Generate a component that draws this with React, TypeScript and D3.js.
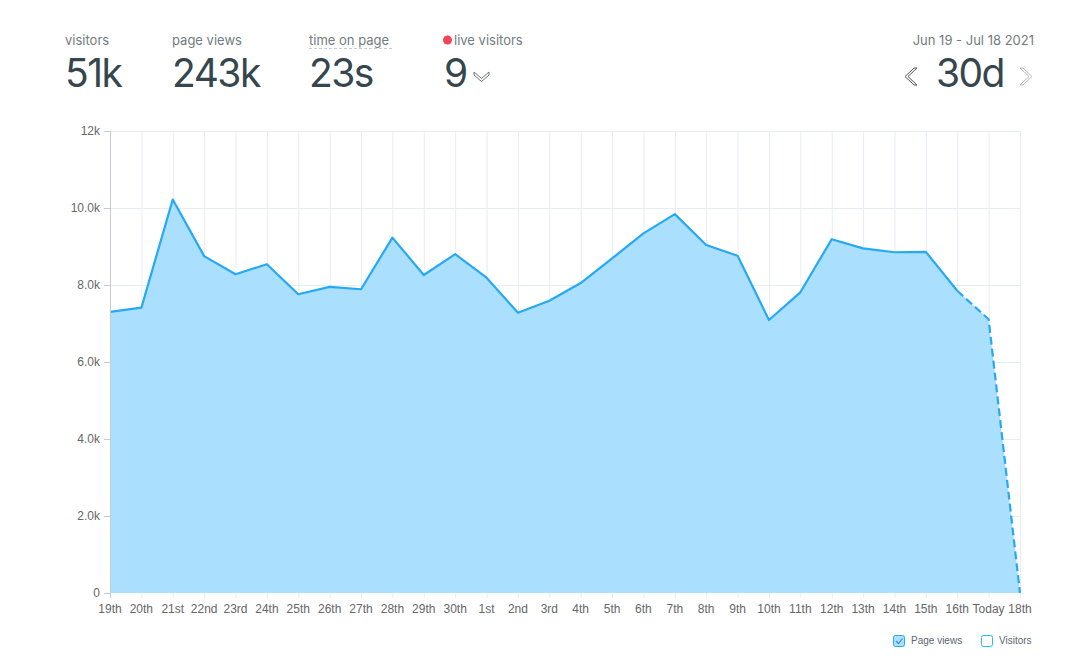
import React, { useEffect, useRef } from 'react';
import * as d3 from 'd3';

// x categories (Jun 19 - Jul 18)
const days = [
  '19th', '20th', '21st', '22nd', '23rd', '24th', '25th', '26th', '27th', '28th', '29th', '30th',
  '1st', '2nd', '3rd', '4th', '5th', '6th', '7th', '8th', '9th', '10th', '11th', '12th', '13th',
  '14th', '15th', '16th', 'Today', '18th',
];

// page views per day
const pageViews = [
  7300, 7410, 10220, 8750, 8280, 8540, 7760, 7950, 7890, 9230, 8260, 8800,
  8190, 7280, 7590, 8050, 8690, 9340, 9840, 9040, 8760, 7090, 7810, 9190, 8950,
  8850, 8860, 7850, 7110, 0,
];

const yTicks = [0, 2000, 4000, 6000, 8000, 10000, 12000];
const yTickLabels = ['0', '2.0k', '4.0k', '6.0k', '8.0k', '10.0k', '12k'];

const statLabels = ['visitors', 'page views', 'time on page', 'live visitors'];
const statValues = ['51k', '243k', '23s', '9'];
const statX = [65, 172, 309, 444];

const dateRange = 'Jun 19 - Jul 18 2021';
const period = '30d';

const legendItems = ['Page views', 'Visitors'];

// index where the line turns dashed (incomplete days)
const dashFrom = 27;

export default function App() {
  const ref = useRef<SVGSVGElement>(null);

  useEffect(() => {
    document.body.style.margin = '0';
    const width = 1069;
    const height = 660;
    const left = 110, right = 1020, top = 131, bottom = 593;

    const svg = d3.select(ref.current).attr('width', width).attr('height', height);
    svg.selectAll('*').remove();

    const x = d3.scalePoint<string>().domain(days).range([left, right]);
    const y = d3.scaleLinear().domain([0, 12000]).range([bottom, top]);

    const headFont = 'Inter, "DejaVu Sans", sans-serif';
    const axisFont = '"Liberation Sans", Arial, sans-serif';

    // header stats
    const head = svg.append('g');
    statLabels.forEach((lab, i) => {
      head.append('text')
        .attr('x', i === 3 ? statX[i] + 10 : statX[i])
        .attr('y', 45)
        .attr('font-family', headFont)
        .attr('font-size', 13)
        .attr('fill', '#737b80')
        .text(lab);
      head.append('text')
        .attr('x', statX[i])
        .attr('y', 87)
        .attr('font-family', headFont)
        .attr('font-size', 39)
        .attr('font-weight', 400)
        .attr('letter-spacing', -1.5)
        .attr('fill', '#36464e')
        .text(statValues[i]);
    });
    // dashed underline under time on page
    head.append('line')
      .attr('x1', 309).attr('x2', 393).attr('y1', 48.5).attr('y2', 48.5)
      .attr('stroke', '#c6cdd2').attr('stroke-dasharray', '3,2');
    // live dot
    head.append('circle').attr('cx', 447.5).attr('cy', 40).attr('r', 4.5).attr('fill', '#f2455b');
    // chevron next to live count
    head.append('path')
      .attr('d', 'M474,72 L481.5,78.5 L489,72 L489,75 L481.5,81.5 L474,75 Z')
      .attr('fill', 'none').attr('stroke', '#6f777c').attr('stroke-width', 1);

    // date range and period
    head.append('text')
      .attr('x', 1034).attr('y', 45)
      .attr('text-anchor', 'end')
      .attr('font-family', headFont).attr('font-size', 13).attr('fill', '#737b80')
      .text(dateRange);
    head.append('text')
      .attr('x', 1004).attr('y', 87)
      .attr('text-anchor', 'end')
      .attr('font-family', headFont).attr('font-size', 39)
      .attr('letter-spacing', -1.5)
      .attr('fill', '#36464e')
      .text(period);
    head.append('path')
      .attr('d', 'M914,68 L905,76.5 L914,85 L917,85 L908,76.5 L917,68 Z')
      .attr('fill', 'none').attr('stroke', '#4d575c').attr('stroke-width', 1);
    head.append('path')
      .attr('d', 'M1023,68 L1032,76.5 L1023,85 L1020,85 L1029,76.5 L1020,68 Z')
      .attr('fill', 'none').attr('stroke', '#b4bbc0').attr('stroke-width', 1);

    // grid
    const grid = svg.append('g');
    grid.selectAll('line.h')
      .data(yTicks.slice(1))
      .enter().append('line')
      .attr('x1', left).attr('x2', right)
      .attr('y1', d => y(d) + 0.5).attr('y2', d => y(d) + 0.5)
      .attr('stroke', '#e7edf2');
    grid.selectAll('line.v')
      .data(days.slice(1))
      .enter().append('line')
      .attr('x1', d => x(d)! + 0.5).attr('x2', d => x(d)! + 0.5)
      .attr('y1', top).attr('y2', bottom + 5)
      .attr('stroke', '#e7edf2');

    // area
    const pts = days.map((d, i) => ({ day: d, v: pageViews[i] }));
    const area = d3.area<{ day: string; v: number }>()
      .x(d => x(d.day)!)
      .y0(y(0))
      .y1(d => y(d.v));
    svg.append('path')
      .datum(pts)
      .attr('d', area)
      .attr('fill', '#aadffd');

    const line = d3.line<{ day: string; v: number }>()
      .x(d => x(d.day)!)
      .y(d => y(d.v));
    svg.append('path')
      .datum(pts.slice(0, dashFrom + 1))
      .attr('d', line)
      .attr('fill', 'none')
      .attr('stroke', '#25a9f4')
      .attr('stroke-width', 2.2)
      .attr('stroke-linejoin', 'round');
    svg.append('path')
      .datum(pts.slice(dashFrom))
      .attr('d', line)
      .attr('fill', 'none')
      .attr('stroke', '#25a9f4')
      .attr('stroke-width', 2.2)
      .attr('stroke-dasharray', '8,4');

    // y axis
    const yAxis = svg.append('g');
    yAxis.append('line')
      .attr('x1', left + 0.5).attr('x2', left + 0.5)
      .attr('y1', top).attr('y2', bottom + 5)
      .attr('stroke', '#c5cbd0');
    yAxis.selectAll('line.t')
      .data(yTicks)
      .enter().append('line')
      .attr('x1', left - 6).attr('x2', left)
      .attr('y1', d => y(d) + 0.5).attr('y2', d => y(d) + 0.5)
      .attr('stroke', '#c5cbd0');
    yAxis.selectAll('text')
      .data(yTicks)
      .enter().append('text')
      .attr('x', 100)
      .attr('y', d => y(d))
      .attr('dy', '0.35em')
      .attr('text-anchor', 'end')
      .attr('font-family', axisFont)
      .attr('font-size', 12)
      .attr('fill', '#666')
      .text((d, i) => yTickLabels[i]);

    // x axis labels
    svg.append('g').selectAll('text')
      .data(days)
      .enter().append('text')
      .attr('x', d => x(d)!)
      .attr('y', 613)
      .attr('text-anchor', 'middle')
      .attr('font-family', axisFont)
      .attr('font-size', 12)
      .attr('fill', '#666')
      .text(d => d);

    // legend
    const lg = svg.append('g');
    lg.append('rect')
      .attr('x', 893.5).attr('y', 635.5).attr('width', 11).attr('height', 11).attr('rx', 2)
      .attr('fill', '#aadffd').attr('stroke', '#25a9f4');
    lg.append('path')
      .attr('d', 'M896,641 L898.5,643.5 L902.5,638.5')
      .attr('fill', 'none').attr('stroke', '#3f8fd0').attr('stroke-width', 1.2);
    lg.append('rect')
      .attr('x', 981.5).attr('y', 635.5).attr('width', 11).attr('height', 11).attr('rx', 2)
      .attr('fill', '#fff').attr('stroke', '#21c0e8');
    lg.selectAll('text')
      .data(legendItems)
      .enter().append('text')
      .attr('x', (d, i) => (i === 0 ? 911 : 999))
      .attr('y', 644)
      .attr('font-family', axisFont)
      .attr('font-size', 10)
      .attr('fill', '#5b6670')
      .text(d => d);
  }, []);

  return <svg ref={ref} style={{ display: 'block' }}></svg>;
}
